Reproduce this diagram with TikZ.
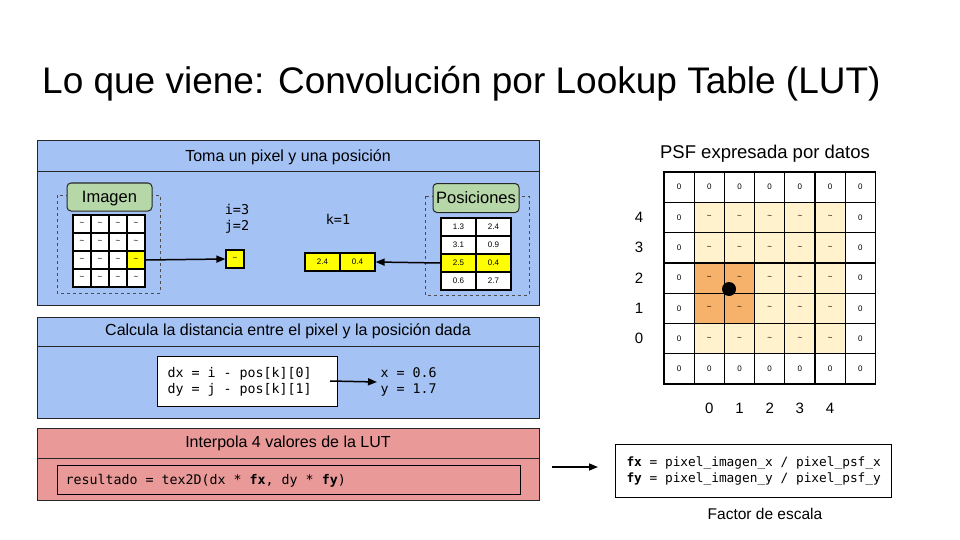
\documentclass[tikz,border=0pt]{standalone}
\usepackage{fontspec}
\setmainfont{Liberation Sans}
\setmonofont{DejaVu Sans Mono}
\usetikzlibrary{arrows.meta}
\definecolor{pblue}{HTML}{A4C2F4}
\definecolor{pred}{HTML}{EA9999}
\definecolor{pgreen}{HTML}{B6D7A8}
\definecolor{plight}{HTML}{FFF2CC}
\definecolor{porange}{HTML}{F6B26B}
\definecolor{pyel}{HTML}{FFFF00}
\tikzset{
 panel/.style={draw=black!85,line width=1pt},
 cell/.style={draw=black,line width=1.2pt,fill=white,minimum width=#1,minimum height=18pt,inner sep=0pt,font=\fontsize{8}{8}\selectfont},
 lbl/.style={draw=black!85,line width=1pt,rounded corners=4pt,fill=pgreen,inner sep=0pt,text height=11pt,text depth=1pt,font=\fontsize{16.5}{17}\selectfont},
 dbox/.style={draw=black!70,dashed,line width=0.5pt},
 arr/.style={-{Triangle[length=9pt,width=7pt]},line width=1.5pt},
 psf/.style={draw=black,line width=1.2pt,minimum size=30.2pt,inner sep=0pt,font=\fontsize{8}{8}\selectfont},
 head/.style={font=\fontsize{16}{17}\selectfont},
 code/.style={font=\ttfamily\fontsize{13.3}{16}\selectfont,align=left},
 num/.style={font=\fontsize{15}{16}\selectfont}
}
\begin{document}
\begin{tikzpicture}[x=1pt,y=-1pt]
\useasboundingbox[fill=white] (0,0) rectangle (960,540);
\node[anchor=base west,font=\fontsize{37}{40}\selectfont,inner sep=0pt] (title) at (42,94) {Lo que viene: Convolución por Lookup Table (LUT)};
% panel 1
\fill[pblue] (37,141) rectangle (539,305);
\draw[panel] (37,141) rectangle (539,305);
\draw[panel] (37,172) -- (539,172);
\node[head] (h1) at (288,157) {Toma un pixel y una posición};
\draw[dbox] (57,195) rectangle (160,293);
\foreach \r in {0,...,3}{\foreach \c in {0,...,3}{
 \node[cell=18pt] (g\r\c) at (82+18*\c,224+18*\r) {\textasciitilde};}}
\node[cell=18pt,fill=pyel] (g23) at (136,260) {\textasciitilde};
\node[lbl,minimum width=85pt,minimum height=28pt] (img) at (109.5,197) {Imagen};
\node[cell=18pt,fill=pyel] (pix) at (235,259) {\textasciitilde};
\draw[arr] (g23.east) -- (pix.west);
\node[code,font=\ttfamily\fontsize{13.5}{16}\selectfont] (ij) at (237,219) {i=3\\j=2};
\node[code,font=\ttfamily\fontsize{13.5}{16}\selectfont] (k) at (338,219) {k=1};
\draw[dbox] (425,196) rectangle (529,295);
\node[cell=35pt,minimum height=18pt] (p00) at (458.5,227) {1.3};
\node[cell=35pt] (p01) at (493.5,227) {2.4};
\node[cell=35pt] (p10) at (458.5,245) {3.1};
\node[cell=35pt] (p11) at (493.5,245) {0.9};
\node[cell=35pt,fill=pyel] (p20) at (458.5,263) {2.5};
\node[cell=35pt,fill=pyel] (p21) at (493.5,263) {0.4};
\node[cell=35pt] (p30) at (458.5,281) {0.6};
\node[cell=35pt] (p31) at (493.5,281) {2.7};
\node[lbl,minimum width=86pt,minimum height=29pt] (pos) at (476,198) {Posiciones};
\node[cell=35pt,fill=pyel] (y0) at (322.5,262) {2.4};
\node[cell=35pt,fill=pyel] (y1) at (357.5,262) {0.4};
\draw[arr] (p20.west) -- (y1.east);
% panel 2
\fill[pblue] (37,317) rectangle (539,418);
\draw[panel] (37,317) rectangle (539,418);
\draw[panel] (37,346) -- (539,346);
\node[head] (h2) at (288,331) {Calcula la distancia entre el pixel y la posición dada};
\node[draw=black,line width=0.8pt,fill=white,minimum width=180pt,minimum height=50pt,inner sep=0pt] (dxy) at (247,381) {};
\node[code,anchor=west] (dxyt) at (164,382) {dx = i - pos[k][0]\\dy = j - pos[k][1]};
\node[code,anchor=west] (xy) at (377,382) {x = 0.6\\y = 1.7};
\draw[arr] (330,381) -- (xy.west);
% panel 3
\fill[pred] (37,428) rectangle (539,500);
\draw[panel] (37,428) rectangle (539,500);
\draw[panel] (37,458) -- (539,458);
\node[head] (h3) at (288,443) {Interpola 4 valores de la LUT};
\node[draw=black,line width=0.8pt,minimum width=463pt,minimum height=29pt,inner sep=0pt] (res) at (288.5,480) {};
\node[code,anchor=west] (rest) at (62,481) {resultado = tex2D(dx * \textbf{fx}, dy * \textbf{fy})};
% right
\node[draw=black,line width=0.8pt,minimum width=276pt,minimum height=53pt,inner sep=0pt] (fac) at (753,470.5) {};
\node[code,anchor=west,font=\ttfamily\fontsize{12.8}{16}\selectfont] (fact) at (623,471) {\textbf{fx} = pixel\_imagen\_x / pixel\_psf\_x\\\textbf{fy} = pixel\_imagen\_y / pixel\_psf\_y};
\coordinate (a0) at (552,467);
\draw[arr] (a0) -- (598,467);
\node[font=\fontsize{15.5}{16}\selectfont] (fl) at (765,514) {Factor de escala};
\node[font=\fontsize{18.5}{19}\selectfont] (pt) at (765,154) {PSF expresada por datos};
\foreach \r in {0,...,6}{\foreach \c in {0,...,6}{
 \pgfmathtruncatemacro\edge{(\r==0||\r==6||\c==0||\c==6)?1:0}
 \ifnum\edge=1
  \node[psf,fill=white] (s\r\c) at (679.1+30.2*\c,187.1+30.3*\r) {0};
 \else
  \node[psf,fill=plight] (s\r\c) at (679.1+30.2*\c,187.1+30.3*\r) {\textasciitilde};
 \fi}}
\foreach \r/\c in {3/1,3/2,4/1,4/2}{\node[psf,fill=porange] at (s\r\c) {\textasciitilde};}
\fill (729,289) circle (7pt);
\foreach \r/\t in {1/4,2/3,3/2,4/1,5/0}{\node[num] (rl\t) at (639,187.1+30.3*\r) {\t};}
\foreach \c/\t in {1/0,2/1,3/2,4/3,5/4}{\node[num] (cl\t) at (679.1+30.2*\c,408) {\t};}
\end{tikzpicture}
\end{document}
